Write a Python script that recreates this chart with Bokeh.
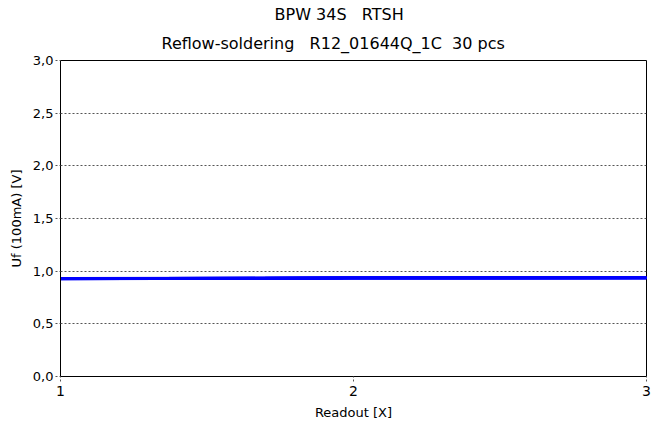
from bokeh.plotting import figure
from bokeh.models import Range1d, Title, FixedTicker
from bokeh.embed import file_html
from bokeh.resources import INLINE

# Forward voltage at 100 mA for each of the 30 pieces, readouts 1..3
readout = [1, 2, 3]
uf_pcs = [
    [0.928, 0.935, 0.936],
    [0.931, 0.937, 0.938],
    [0.925, 0.932, 0.933],
    [0.929, 0.936, 0.937],
    [0.933, 0.939, 0.939],
    [0.926, 0.933, 0.934],
    [0.930, 0.936, 0.937],
    [0.927, 0.934, 0.935],
    [0.932, 0.938, 0.939],
    [0.924, 0.931, 0.932],
    [0.929, 0.935, 0.936],
    [0.931, 0.936, 0.937],
    [0.926, 0.934, 0.934],
    [0.934, 0.940, 0.940],
    [0.928, 0.934, 0.935],
    [0.930, 0.937, 0.938],
    [0.925, 0.933, 0.933],
    [0.932, 0.937, 0.938],
    [0.927, 0.935, 0.935],
    [0.929, 0.936, 0.936],
    [0.933, 0.938, 0.939],
    [0.926, 0.932, 0.933],
    [0.930, 0.935, 0.936],
    [0.928, 0.936, 0.937],
    [0.931, 0.938, 0.938],
    [0.924, 0.932, 0.932],
    [0.929, 0.934, 0.935],
    [0.932, 0.939, 0.940],
    [0.927, 0.933, 0.934],
    [0.930, 0.936, 0.937],
]

y_ticks = [0.0, 0.5, 1.0, 1.5, 2.0, 2.5, 3.0]
y_tick_labels = ["0,0", "0,5", "1,0", "1,5", "2,0", "2,5", "3,0"]
x_ticks = [1, 2, 3]

# non-breaking spaces keep the wide gaps between title fields in SVG text
NB = "\u00a0"
title_line1 = f"BPW 34S{NB}{NB}{NB}RTSH"
title_line2 = f"Reflow-soldering{NB}{NB}{NB}R12_01644Q_1C{NB}{NB}30 pcs"

FONT = "DejaVu Sans"

p = figure(
    width=660, height=423,
    frame_width=586, frame_height=316,
    x_range=Range1d(1, 3), y_range=Range1d(0, 3),
    output_backend="svg", toolbar_location=None,
    min_border_left=60, min_border_right=14,
    min_border_top=60, min_border_bottom=10,
)
p.title = None

# heading lines, left-aligned with offsets so they sit centred on the page
t2 = Title(text=title_line2, align="left", offset=101, text_font=FONT,
           text_font_size="16px", text_font_style="normal",
           text_color="#000000", standoff=16)
t1 = Title(text=title_line1, align="left", offset=214, text_font=FONT,
           text_font_size="16px", text_font_style="normal",
           text_color="#000000", standoff=0)
p.add_layout(t2, "above")
p.add_layout(t1, "above")

for vals in uf_pcs:
    p.line(readout, vals, line_color="#0000FF", line_width=2)

p.outline_line_color = "#000000"
p.outline_line_width = 1
p.background_fill_color = "white"
p.border_fill_color = "white"

p.xgrid.visible = False
p.ygrid.ticker = FixedTicker(ticks=y_ticks)
p.ygrid.grid_line_color = "#555555"
p.ygrid.grid_line_dash = "2 2"
p.ygrid.grid_line_width = 1

p.xaxis.ticker = FixedTicker(ticks=x_ticks)
p.yaxis.ticker = FixedTicker(ticks=y_ticks)
p.yaxis.major_label_overrides = {t: s for t, s in zip(y_ticks, y_tick_labels)}

for ax in (p.xaxis[0], p.yaxis[0]):
    ax.axis_line_color = "#000000"
    ax.axis_line_width = 1
    ax.major_tick_line_color = "#555555"
    ax.major_tick_line_dash = "2 2"
    ax.major_tick_in = 0
    ax.major_tick_out = 5
    ax.minor_tick_line_color = None
    ax.major_label_text_font = FONT
    ax.major_label_text_color = "#000000"
    ax.axis_label_text_font = FONT
    ax.axis_label_text_font_style = "normal"
    ax.axis_label_text_color = "#000000"
    ax.axis_label_text_font_size = "13px"

p.xaxis.axis_label = "Readout [X]"
p.yaxis.axis_label = "Uf (100mA) [V]"
p.xaxis.major_label_text_font_size = "14px"
p.yaxis.major_label_text_font_size = "13px"
p.xaxis.major_label_standoff = 4
p.yaxis.major_label_standoff = 2
p.xaxis.axis_label_standoff = 6
p.yaxis.axis_label_standoff = 6

open("out.html", "w").write(file_html(p, INLINE))
